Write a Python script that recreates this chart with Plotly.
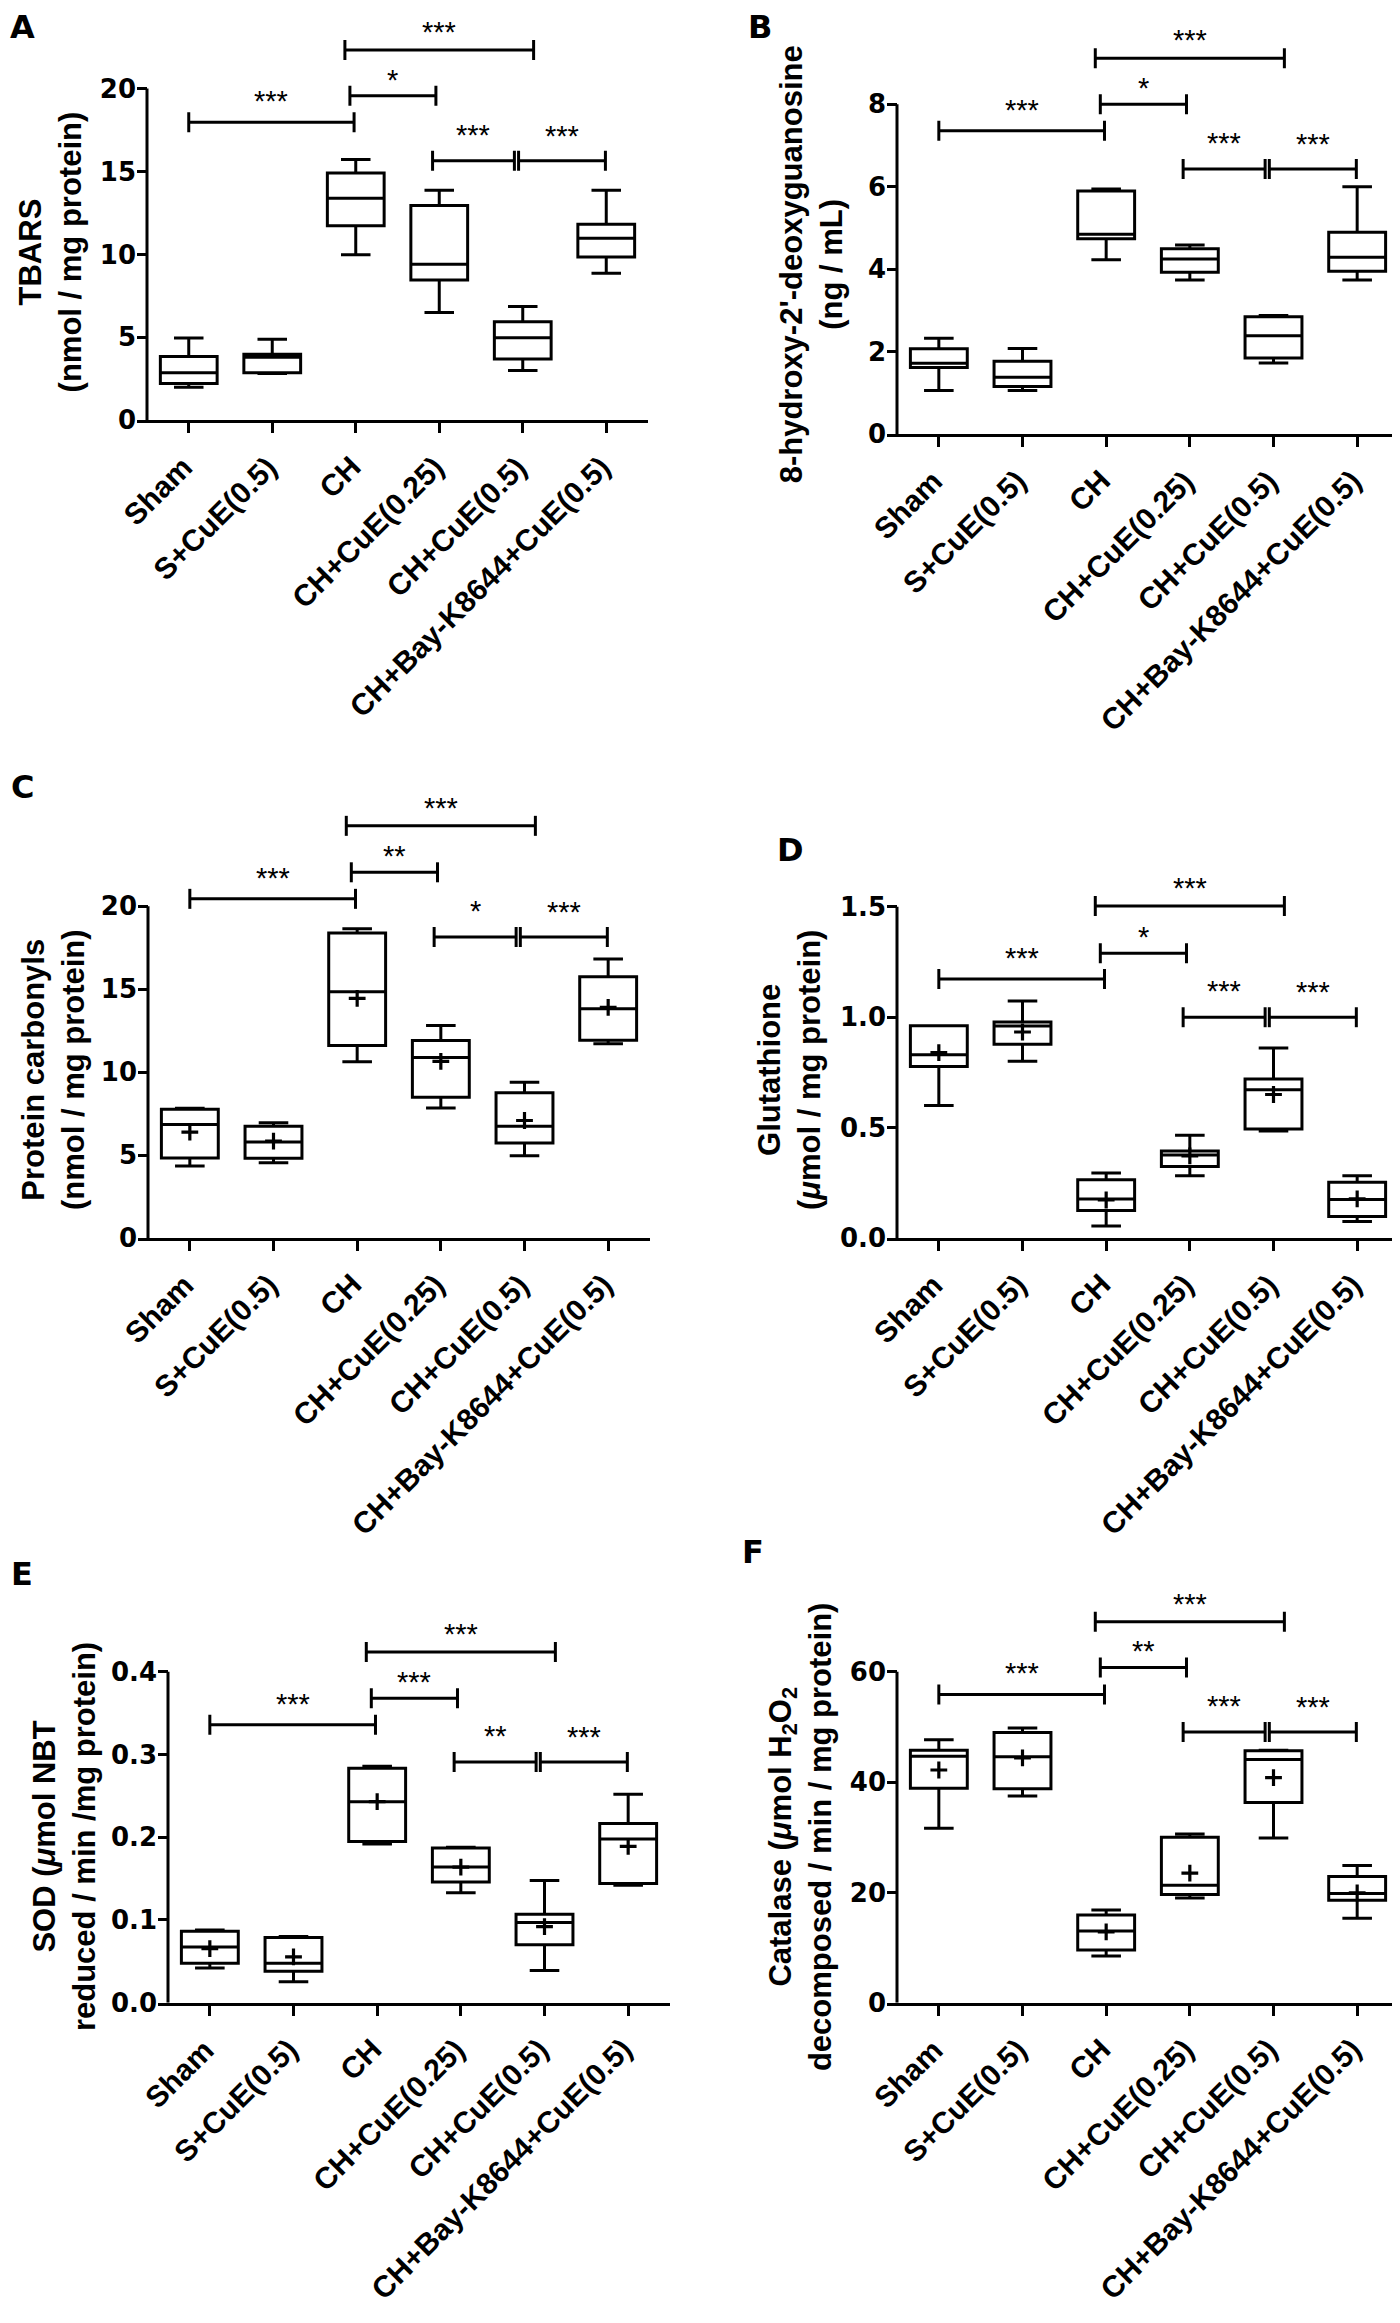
import plotly.graph_objects as go

# ---------------- data ----------------
categories = ["Sham", "S+CuE(0.5)", "CH", "CH+CuE(0.25)", "CH+CuE(0.5)", "CH+Bay-K8644+CuE(0.5)"]

# A: TBARS (nmol / mg protein)
a_min = [2.0, 2.82, 9.98, 6.5, 3.0, 8.86]
a_q1 = [2.22, 2.86, 11.72, 8.46, 3.7, 9.84]
a_med = [2.86, 3.8, 13.38, 9.4, 4.98, 10.98]
a_q3 = [3.84, 3.98, 14.9, 12.94, 5.94, 11.82]
a_max = [4.96, 4.88, 15.72, 13.86, 6.86, 13.86]

# B: 8-hydroxy-2'-deoxyguanosine (ng / mL)
b_min = [1.06, 1.06, 4.23, 3.74, 1.73, 3.74]
b_q1 = [1.62, 1.16, 4.74, 3.93, 1.85, 3.95]
b_med = [1.72, 1.38, 4.85, 4.25, 2.39, 4.29]
b_q3 = [2.07, 1.77, 5.9, 4.5, 2.85, 4.9]
b_max = [2.33, 2.08, 5.95, 4.59, 2.88, 6.0]

# C: Protein carbonyls (nmol / mg protein)
c_min = [4.34, 4.54, 10.62, 7.84, 4.96, 11.7]
c_q1 = [4.82, 4.8, 11.6, 8.48, 5.72, 11.92]
c_med = [6.84, 5.78, 14.84, 10.88, 6.74, 13.82]
c_q3 = [7.76, 6.74, 18.38, 11.9, 8.76, 15.74]
c_max = [7.82, 6.94, 18.64, 12.8, 9.38, 16.82]
c_mean = [6.38, 5.84, 14.44, 10.64, 7.08, 13.9]

# D: Glutathione (umol / mg protein)
d_min = [0.60, 0.80, 0.054, 0.282, 0.4845, 0.075]
d_q1 = [0.777, 0.877, 0.125, 0.324, 0.4935, 0.0975]
d_med = [0.83, 0.96, 0.177, 0.376, 0.672, 0.174]
d_q3 = [0.961, 0.978, 0.264, 0.394, 0.72, 0.252]
d_max = [0.961, 1.074, 0.294, 0.465, 0.861, 0.282]
d_mean = [0.84, 0.933, 0.172, 0.372, 0.65, 0.177]

# E: SOD
e_min = [0.042, 0.0252, 0.192, 0.133, 0.0388, 0.142]
e_q1 = [0.0476, 0.038, 0.195, 0.146, 0.070, 0.144]
e_med = [0.0673, 0.0476, 0.243, 0.164, 0.097, 0.198]
e_q3 = [0.0865, 0.0789, 0.2835, 0.187, 0.107, 0.2166]
e_max = [0.088, 0.080, 0.286, 0.1878, 0.1478, 0.252]
e_mean = [0.0653, 0.0553, 0.243, 0.164, 0.092, 0.189]

# F: Catalase
f_min = [31.65, 37.5, 8.47, 19.0, 29.85, 15.3]
f_q1 = [38.9, 38.8, 9.55, 19.6, 36.3, 18.6]
f_med = [44.7, 44.6, 13.0, 21.3, 44.1, 19.8]
f_q3 = [45.8, 49.0, 15.9, 30.0, 45.7, 22.9]
f_max = [47.7, 49.8, 16.8, 30.6, 45.8, 24.9]
f_mean = [42.2, 44.4, 12.85, 23.5, 40.8, 19.9]

# significance brackets (group-index endpoints shared by all panels)
sig_x0 = [0.0, 1.93, 1.87, 2.92, 3.95]
sig_x1 = [1.98, 2.96, 4.13, 3.9, 4.99]
a_sig_h = [17.96, 19.56, 22.32, 15.64, 15.64]
b_sig_h = [7.36, 8.0, 9.12, 6.43, 6.43]
c_sig_h = [20.44, 22.04, 24.84, 18.14, 18.14]
d_sig_h = [1.173, 1.29, 1.504, 1.0, 1.0]
e_sig_h = [0.336, 0.368, 0.424, 0.291, 0.291]
f_sig_h = [55.9, 60.8, 69.1, 49.1, 49.1]
a_sig = ["***", "*", "***", "***", "***"]
b_sig = ["***", "*", "***", "***", "***"]
c_sig = ["***", "**", "***", "*", "***"]
d_sig = ["***", "*", "***", "***", "***"]
e_sig = ["***", "***", "***", "**", "***"]
f_sig = ["***", "**", "***", "***", "***"]

a_title = "TBARS<br>(nmol / mg protein)"
b_title = "8-hydroxy-2'-deoxyguanosine<br>(ng / mL)"
c_title = "Protein carbonyls<br>(nmol / mg protein)"
d_title = "Glutathione<br>(<i>μ</i>mol / mg protein)"
e_title = "SOD (<i>μ</i>mol NBT<br>reduced / min /mg protein)"
f_title = "Catalase (<i>μ</i>mol H<sub>2</sub>O<sub>2</sub><br>decomposed / min / mg protein)"

# ---------------- layout / style ----------------
PAGE_OFF = 8                      # default body margin of the html page
W, H = 1400 - PAGE_OFF, 2323 - PAGE_OFF
FONT = "Liberation Sans, Arial, Helvetica, sans-serif"
WIDE = "DejaVu Sans, Verdana, sans-serif"
LW = 3
TICKLEN = 10
TEXT_OFF = [27, 22, 24, 32, 31]

def fx(px):
    return min(1.0, max(0.0, (px - PAGE_OFF) / W))

def fy(py):
    return min(1.0, max(0.0, 1 - (py - PAGE_OFF) / H))

panels = [
    dict(letter="A", lx=22, ly=27, stats=(a_min, a_q1, a_med, a_q3, a_max), mean=None,
         sig_h=a_sig_h, sig=a_sig, title=a_title, tx=50, ty=254,
         ax_x=147, ax_r=648, y0=423, ytop=89, ymax=20, top=10, dtick=5, fmt="d"),
    dict(letter="B", lx=760, ly=27, stats=(b_min, b_q1, b_med, b_q3, b_max), mean=None,
         sig_h=b_sig_h, sig=b_sig, title=b_title, tx=811, ty=266,
         ax_x=897, ax_r=1399, y0=437, ytop=105, ymax=8, top=15, dtick=2, fmt="d"),
    dict(letter="C", lx=22, ly=792, stats=(c_min, c_q1, c_med, c_q3, c_max), mean=c_mean,
         sig_h=c_sig_h, sig=c_sig, title=c_title, tx=53, ty=1077,
         ax_x=148, ax_r=650, y0=1246, ytop=912, ymax=20, top=780, dtick=5, fmt="d"),
    dict(letter="D", lx=790, ly=855, stats=(d_min, d_q1, d_med, d_q3, d_max), mean=d_mean,
         sig_h=d_sig_h, sig=d_sig, title=d_title, tx=789, ty=1077,
         ax_x=897, ax_r=1399, y0=1246, ytop=912.7, ymax=1.5, top=860, dtick=0.5, fmt=".1f"),
    dict(letter="E", lx=22, ly=1584, stats=(e_min, e_q1, e_med, e_q3, e_max), mean=e_mean,
         sig_h=e_sig_h, sig=e_sig, title=e_title, tx=64, ty=1849,
         ax_x=168, ax_r=670, y0=2015.7, ytop=1682.7, ymax=0.4, top=1605, dtick=0.1, fmt=".1f"),
    dict(letter="F", lx=753, ly=1562, stats=(f_min, f_q1, f_med, f_q3, f_max), mean=f_mean,
         sig_h=f_sig_h, sig=f_sig, title=f_title, tx=800, ty=1849,
         ax_x=897, ax_r=1399, y0=2015.7, ytop=1682.7, ymax=60, top=1580, dtick=20, fmt="d"),
]

fig = go.Figure()
shapes = []
annotations = []
layout_axes = {}

for i, p in enumerate(panels, start=1):
    xa = "x" if i == 1 else f"x{i}"
    ya = "y" if i == 1 else f"y{i}"
    mn, q1, med, q3, mx = p["stats"]
    fig.add_trace(go.Box(
        x=categories, q1=q1, median=med, q3=q3, lowerfence=mn, upperfence=mx,
        xaxis=xa, yaxis=ya, width=0.68, whiskerwidth=0.52, boxpoints=False,
        fillcolor="white", line=dict(color="black", width=LW),
        showlegend=False, hoverinfo="skip"))
    if p["mean"] is not None:
        fig.add_trace(go.Scatter(
            x=categories, y=p["mean"], xaxis=xa, yaxis=ya, mode="markers",
            marker=dict(symbol="cross-thin", size=12, color="black",
                        line=dict(color="black", width=3.2)),
            showlegend=False, hoverinfo="skip"))

    unit = (p["ax_r"] - p["ax_x"]) / 6.0
    xlo = -0.5 - TICKLEN / unit
    pxper = (p["y0"] - p["ytop"]) / p["ymax"]
    yhi = (p["y0"] - max(p["top"], PAGE_OFF)) / pxper
    nt = int(round(p["ymax"] / p["dtick"]))
    tickvals = [k * p["dtick"] for k in range(nt + 1)]
    if p["fmt"] == "d":
        ticktext = [f"{v:.0f}" for v in tickvals]
    else:
        ticktext = [f"{v:.1f}" for v in tickvals]

    layout_axes["xaxis" if i == 1 else f"xaxis{i}"] = dict(
        domain=[fx(p["ax_x"] - TICKLEN), fx(p["ax_r"])],
        range=[xlo, 5.5], type="category", categoryorder="array", categoryarray=categories,
        anchor=ya, showline=True, linecolor="black", linewidth=LW,
        ticks="outside", ticklen=TICKLEN, tickwidth=LW, tickcolor="black",
        showticklabels=False,
        showgrid=False, zeroline=False, fixedrange=True)
    layout_axes["yaxis" if i == 1 else f"yaxis{i}"] = dict(
        domain=[fy(p["y0"]), fy(max(p["top"], PAGE_OFF))], range=[0, yhi], anchor=xa,
        tickmode="array", tickvals=tickvals, ticktext=ticktext,
        ticks="inside", ticklen=TICKLEN, tickwidth=LW, tickcolor="black",
        tickfont=dict(family=WIDE, size=26, color="black", weight="bold"),
        showline=False, showgrid=False, zeroline=False, fixedrange=True)

    # category labels, rotated, their upper-right end at each tick
    for j, cat in enumerate(categories):
        annotations.append(dict(xref=xa, yref=ya, x=j, y=0, text=cat, textangle=-45,
                                showarrow=False, xanchor="right", yanchor="top",
                                xshift=13, yshift=-27,
                                font=dict(family=FONT, size=30, color="black", weight="bold")))

    # y-axis line
    shapes.append(dict(type="line", xref=xa, yref=ya, x0=-0.5, x1=-0.5, y0=0, y1=p["ymax"],
                       line=dict(color="black", width=LW)))
    # significance brackets
    for k in range(5):
        h = p["sig_h"][k]
        x0, x1 = sig_x0[k], sig_x1[k]
        shapes.append(dict(type="line", xref=xa, yref=ya, x0=x0, x1=x1, y0=h, y1=h,
                           line=dict(color="black", width=3)))
        for xe in (x0, x1):
            shapes.append(dict(type="line", xref=xa, yref=ya, ysizemode="pixel", yanchor=h,
                               x0=xe, x1=xe, y0=-10, y1=10,
                               line=dict(color="black", width=3)))
        annotations.append(dict(xref=xa, yref=ya, x=(x0 + x1) / 2, y=h, text=p["sig"][k],
                                showarrow=False, xanchor="center", yanchor="middle",
                                yshift=TEXT_OFF[k] - 6,
                                font=dict(family=FONT, size=29, color="black")))
    # y title
    annotations.append(dict(xref="paper", yref="paper", x=fx(p["tx"]), y=fy(p["ty"]),
                            text=p["title"], textangle=-90, showarrow=False,
                            xanchor="center", yanchor="middle",
                            font=dict(family=FONT, size=31, color="black", weight="bold")))
    # panel letter
    annotations.append(dict(xref="paper", yref="paper", x=fx(p["lx"]), y=fy(p["ly"]),
                            text=p["letter"], showarrow=False, xanchor="center", yanchor="middle",
                            font=dict(family=WIDE, size=32, color="black", weight="bold")))

fig.update_layout(
    width=W, height=H, margin=dict(l=0, r=0, t=0, b=0),
    paper_bgcolor="white", plot_bgcolor="white",
    shapes=shapes, annotations=annotations, showlegend=False,
    **layout_axes)

fig.write_html("out.html")
